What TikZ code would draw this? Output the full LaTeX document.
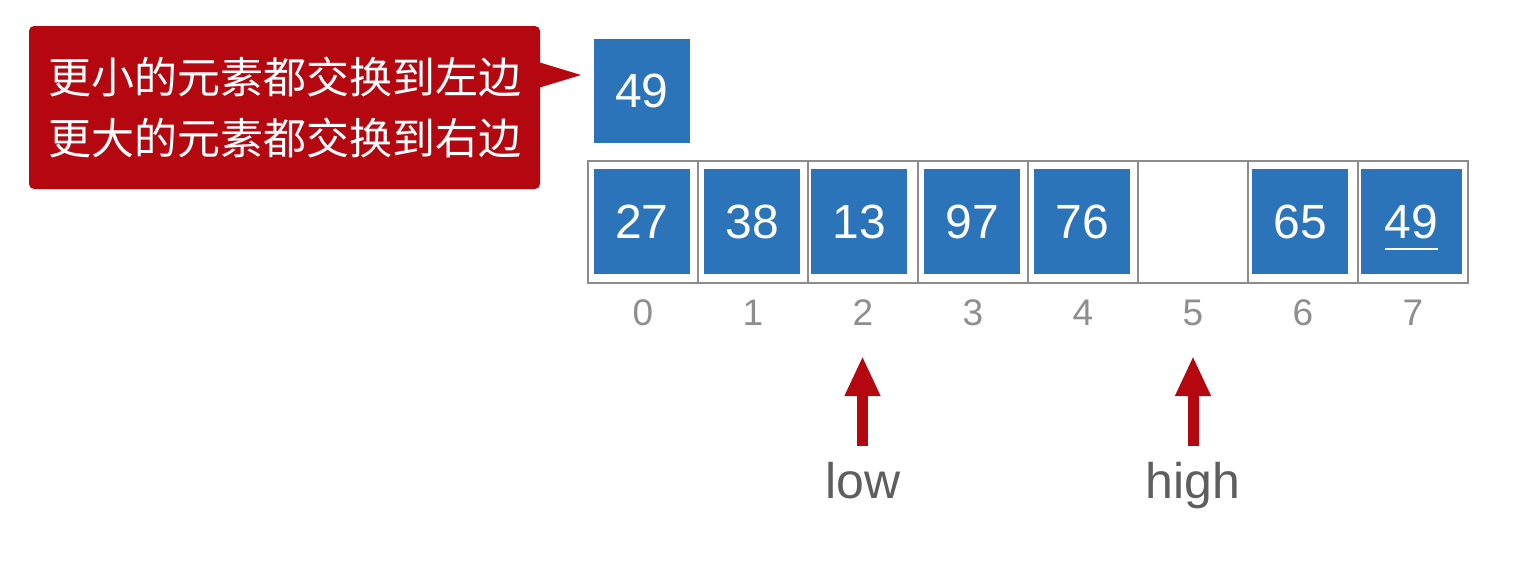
\documentclass[tikz,border=0pt]{standalone}
\usepackage{fontspec}
\setmainfont{Liberation Sans}
\newfontfamily\cjk{Noto Sans CJK SC}
\usetikzlibrary{arrows.meta}
\definecolor{cellblue}{HTML}{2C74BA}
\definecolor{alertred}{HTML}{B4070F}
\definecolor{framegray}{HTML}{8C8C8C}
\definecolor{idxgray}{HTML}{8E8E8E}
\definecolor{labgray}{HTML}{5E5E5E}
\tikzset{
  cellframe/.style={draw=framegray, line width=1.3pt, minimum width=110pt, minimum height=122pt, inner sep=0pt},
  valbox/.style={fill=cellblue, text=white, minimum width=96pt, minimum height=105pt, inner sep=0pt, font=\fontsize{48}{48}\selectfont},
  idx/.style={text=idxgray, anchor=base, inner sep=0pt, font=\fontsize{37}{37}\selectfont},
  ptrlabel/.style={text=labgray, anchor=base, inner sep=0pt, font=\fontsize{50}{50}\selectfont},
  ptr/.style={draw=alertred, line width=11pt, -{Triangle[width=33pt,length=40pt]}},
  callout/.style={fill=alertred, text=white, rounded corners=5pt, minimum width=511pt, minimum height=163pt, inner sep=0pt, align=center, font=\cjk\fontsize{43}{61}\selectfont}
}
\begin{document}
\begin{tikzpicture}[x=1pt,y=-1pt]
\useasboundingbox (0,0) rectangle (1521,573);
% callout
\node[callout] (note) at (284.5,107.5) {更小的元素都交换到左边\\更大的元素都交换到右边};
\coordinate (notetip) at (581,75);
\fill[alertred] ([xshift=-2pt,yshift=45.5pt]note.east) -- (notetip) -- ([xshift=-2pt,yshift=19.5pt]note.east) -- cycle;
% pivot
\node[valbox, minimum height=104pt] (pivot) at (642,91) {49};
% cells
\foreach \i in {0,...,7} {
  \node[cellframe] (c\i) at (643+110*\i,222) {};
  \node[idx] (i\i) at (643+110*\i,325) {\i};
}
\node[valbox] (v0) at (642,221.5) {27};
\node[valbox] (v1) at (752,221.5) {38};
\node[valbox] (v2) at (859,221.5) {13};
\node[valbox] (v3) at (972,221.5) {97};
\node[valbox] (v4) at (1082,221.5) {76};
\node[valbox] (v6) at (1300,221.5) {65};
\node[valbox, minimum width=101pt] (v7) at (1411.5,221.5) {49};
\draw[white, line width=2.5pt] ([xshift=-26.5pt,yshift=-27.5pt]v7.center) -- ([xshift=26.5pt,yshift=-27.5pt]v7.center);
% pointers
\node[ptrlabel] (low) at (863,498) {low};
\node[ptrlabel] (high) at (1193,498) {high};
\coordinate (lowtail) at (862.5,446);
\coordinate (lowtip) at (862.5,356);
\coordinate (hightail) at (1193,446);
\coordinate (hightip) at (1193,356);
\draw[ptr] (lowtail) -- (lowtip);
\draw[ptr] (hightail) -- (hightip);
\end{tikzpicture}
\end{document}
